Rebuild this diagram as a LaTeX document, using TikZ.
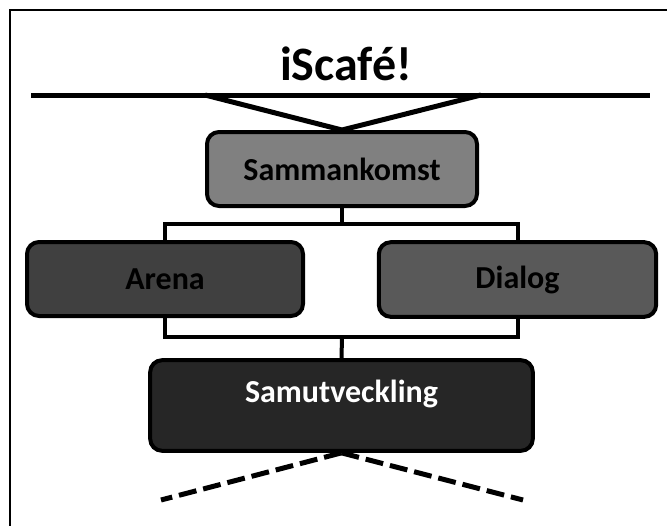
\documentclass[tikz,border=0pt]{standalone}
\usepackage{fontspec}
\setmainfont{Carlito}
\definecolor{gSam}{HTML}{808080}
\definecolor{gAre}{HTML}{404040}
\definecolor{gDia}{HTML}{595959}
\definecolor{gUtv}{HTML}{262626}
\begin{document}
\begin{tikzpicture}[x=0.75pt,y=-0.75pt,
  boxstyle/.style={draw=black,line width=3pt,rounded corners=9pt,inner sep=0pt,
    font=\fontsize{24}{28}\selectfont\bfseries},
  linkstyle/.style={draw=black,line width=3pt},
  thickline/.style={draw=black,line width=3.75pt},
  dashline/.style={draw=black,line width=3.75pt,dash pattern=on 13.5pt off 5.25pt}]
\useasboundingbox (0,0) rectangle (667,525);
\begin{scope}
\clip (0,0) rectangle (667,525);
\draw[line width=1.5pt] (10,540) -- (10,10) -- (690,10);
\end{scope}
% title
\node[font=\fontsize{36}{40}\selectfont\bfseries] (title) at (346,64) {iScafé!};
% nodes
\node[boxstyle,fill=gSam,minimum width=202.5pt,minimum height=55.5pt] (sam) at (342,169) {Sammankomst};
\node[boxstyle,fill=gAre,minimum width=207pt,minimum height=55.5pt] (arena) at (165,279) {Arena};
\node[boxstyle,fill=gDia,minimum width=208pt,minimum height=56pt] (dialog) at (517.5,279.5) {Dialog};
\node[boxstyle,fill=gUtv,minimum width=287pt,minimum height=68pt] (samu) at (341.5,405.5) {};
\node[font=\fontsize{24}{28}\selectfont\bfseries,text=white] (samutext) at (341.5,394) {Samutveckling};
% top line and triangle
\coordinate (lineL) at (31,95);
\coordinate (lineR) at (650,95);
\coordinate (triL) at (205,95);
\coordinate (triR) at (481,95);
\draw[thickline] (lineL) -- (lineR);
\draw[thickline,line join=miter] (triL) -- (sam.north) -- (triR);
% brackets
\coordinate (topjoin) at (342,224);
\coordinate (botjoin) at (342,337);
\draw[linkstyle] (sam.south) -- (topjoin);
\draw[linkstyle] (arena.north) |- (topjoin) -| (dialog.north);
\draw[linkstyle] (arena.south) |- (botjoin) -| (dialog.south);
\draw[linkstyle] (botjoin) -- (samu.north);
% dashed legs
\coordinate (dashL) at (161,500);
\coordinate (dashR) at (523,500);
\draw[dashline] (samu.south) -- (dashL);
\draw[dashline] (samu.south) -- (dashR);
\end{tikzpicture}
\end{document}
